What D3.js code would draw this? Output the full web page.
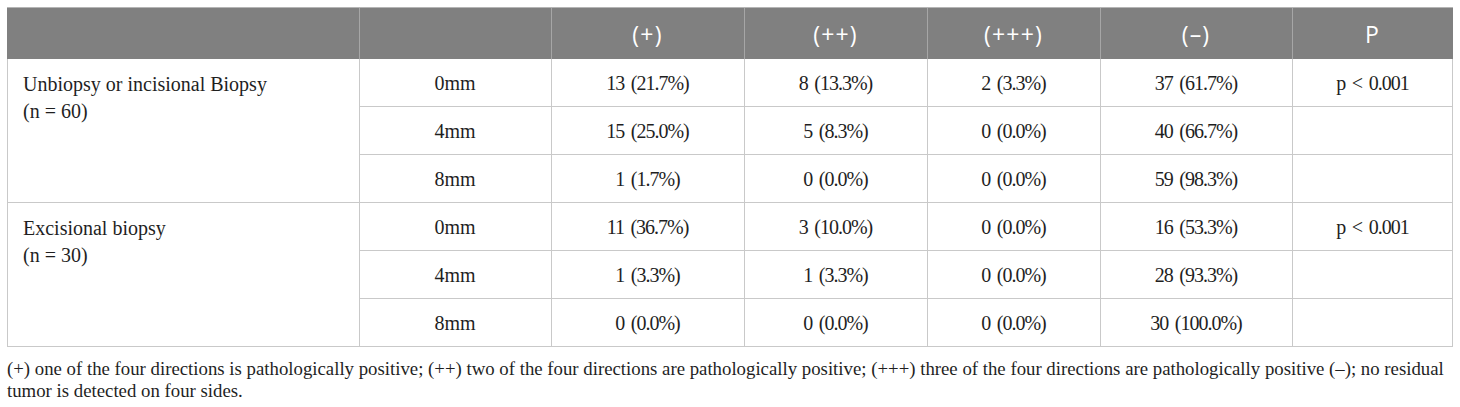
<!DOCTYPE html>
<html>
<head>
<meta charset="utf-8">
<script src="https://cdn.jsdelivr.net/npm/d3@7"></script>
<style>
  body { margin: 0; background: #fff; }
  svg { display: block; }
</style>
</head>
<body>
<svg id="chart" width="1460" height="407"></svg>
<script>
// table content
const headers = ["", "", "(+)", "(++)", "(+++)", "(–)", "P"];
const groups = ["Unbiopsy or incisional Biopsy", "Excisional biopsy"];
const groupN = [60, 30];
const margins = ["0mm", "4mm", "8mm"];
const grades = ["(+)", "(++)", "(+++)", "(–)"];
// counts per group, per grade, per margin (0mm, 4mm, 8mm)
const unbiopsyCounts = [
  [13, 15, 1],
  [8, 5, 0],
  [2, 0, 0],
  [37, 40, 59]
];
const excisionalCounts = [
  [11, 1, 0],
  [3, 1, 0],
  [0, 0, 0],
  [16, 28, 30]
];
const pValues = ["p < 0.001", "p < 0.001"];
const footnote = [
  "(+) one of the four directions is pathologically positive; (++) two of the four directions are pathologically positive; (+++) three of the four directions are pathologically positive (–); no residual",
  "tumor is detected on four sides."
];

// layout
const tblLeft = 7, tblTop = 7, headH = 52, rowH = 48;
const colW = [352, 192, 193, 183, 173, 192, 161];
const serif = "'Liberation Serif', 'Times New Roman', serif";
const sans = "'Open Sans', 'Noto Sans', sans-serif";
const lineCol = "#c9c9c9";
const textCol = "#1f1f1f";

var svg = d3.select("#chart");

var colStart = [tblLeft].concat(Array.from(d3.cumsum(colW), d => d + tblLeft));
var x = d3.scaleOrdinal().domain(d3.range(colW.length)).range(colStart);
var nRows = groups.length * margins.length;
var y = d3.scaleBand().domain(d3.range(nRows)).range([tblTop + headH, tblTop + headH + nRows * rowH]);
var tableRight = colStart[colStart.length - 1];
var tableBottom = tblTop + headH + nRows * rowH;

// header band
svg.append("rect")
  .attr("x", tblLeft).attr("y", tblTop)
  .attr("width", tableRight - tblLeft).attr("height", headH)
  .attr("fill", "#808080");

svg.selectAll(".hsep")
  .data(d3.range(1, colW.length))
  .enter().append("line")
  .attr("x1", d => x(d) + 0.5).attr("x2", d => x(d) + 0.5)
  .attr("y1", tblTop).attr("y2", tblTop + headH)
  .attr("stroke", "#a6a6a6").attr("stroke-width", 1);

svg.selectAll(".htext")
  .data(headers)
  .enter().append("text")
  .attr("x", (d, i) => x(i) + colW[i] / 2)
  .attr("y", tblTop + 36)
  .attr("text-anchor", "middle")
  .attr("font-family", sans)
  .attr("font-size", 23)
  .attr("letter-spacing", 1.2)
  .attr("fill", "#fff")
  .text(d => d);

// build rows
var allCounts = [unbiopsyCounts, excisionalCounts];
var rows = [];
groups.forEach(function(g, gi) {
  margins.forEach(function(m, mi) {
    rows.push({
      group: gi, margin: m, mi: mi,
      cells: grades.map(function(gr, k) {
        var c = allCounts[gi][k][mi];
        return c + " (" + (c / groupN[gi] * 100).toFixed(1) + "%)";
      }),
      p: mi == 0 ? pValues[gi] : ""
    });
  });
});

// grid lines in body
var bodyLines = svg.append("g").attr("stroke", lineCol).attr("stroke-width", 1);
rows.forEach(function(r, i) {
  var yb = y(i) + rowH - 0.5;
  var x0 = (r.mi == margins.length - 1) ? tblLeft : x(1);
  bodyLines.append("line")
    .attr("x1", x0).attr("x2", tableRight)
    .attr("y1", yb).attr("y2", yb);
});
d3.range(0, colW.length + 1).forEach(function(c) {
  var xx = c == colW.length ? tableRight - 0.5 : x(c) + 0.5;
  bodyLines.append("line")
    .attr("x1", xx).attr("x2", xx)
    .attr("y1", tblTop + headH).attr("y2", tableBottom);
});
bodyLines.append("line")
  .attr("x1", tblLeft).attr("x2", tableRight)
  .attr("y1", tblTop + 0.5).attr("y2", tblTop + 0.5)
  .attr("stroke", "#b5b5b5");

// body text
var rowG = svg.selectAll(".row")
  .data(rows)
  .enter().append("g")
  .attr("transform", (d, i) => "translate(0," + y(i) + ")");

rowG.selectAll("text.cell")
  .data(d => [d.margin].concat(d.cells).concat([d.p]))
  .enter().append("text")
  .attr("x", (d, i) => x(i + 1) + colW[i + 1] / 2)
  .attr("y", rowH / 2 + 7)
  .attr("text-anchor", "middle")
  .attr("font-family", serif)
  .attr("font-size", 20)
  .attr("letter-spacing", (d, i) => i == 0 ? 0 : -1)
  .attr("word-spacing", (d, i) => i == 0 ? 0 : 2.5)
  .attr("fill", textCol)
  .text(d => d);

// group labels
groups.forEach(function(g, gi) {
  var t = svg.append("text")
    .attr("x", tblLeft + 16)
    .attr("y", y(gi * margins.length) + 32)
    .attr("font-family", serif)
    .attr("font-size", 20)
    .attr("fill", textCol);
  t.append("tspan").attr("x", tblLeft + 16).text(g);
  t.append("tspan").attr("x", tblLeft + 16).attr("dy", 27).text("(n = " + groupN[gi] + ")");
});

// footnote
svg.selectAll(".foot")
  .data(footnote)
  .enter().append("text")
  .attr("x", tblLeft)
  .attr("y", (d, i) => tableBottom + 28 + i * 22)
  .attr("font-family", serif)
  .attr("font-size", 18.8)
  .attr("fill", textCol)
  .text(d => d);
</script>
</body>
</html>
